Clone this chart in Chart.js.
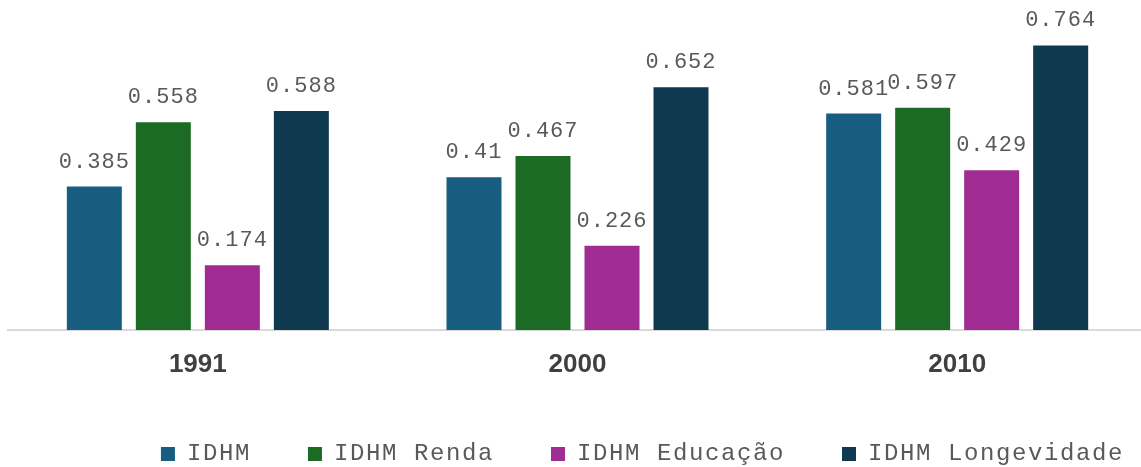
<!DOCTYPE html>
<html>
<head>
<meta charset="utf-8">
<script src="https://cdn.jsdelivr.net/npm/chart.js@4/dist/chart.umd.min.js"></script>
<style>
  html, body { margin: 0; padding: 0; background: #fff; overflow: hidden; }
  canvas { display: block; }
</style>
</head>
<body>
<canvas id="idhmChart" width="1147" height="467"></canvas>
<script>
// Chart data
const years = ["1991", "2000", "2010"];
const idhm = [0.385, 0.41, 0.581];
const idhmRenda = [0.558, 0.467, 0.597];
const idhmEducacao = [0.174, 0.226, 0.429];
const idhmLongevidade = [0.588, 0.652, 0.764];

const seriesNames = ["IDHM", "IDHM Renda", "IDHM Educação", "IDHM Longevidade"];
const seriesColors = ["#175d80", "#1b6b24", "#a02b93", "#0e394f"];

const monoFont = "'Courier New', 'Nimbus Mono PS', FreeMono, 'Liberation Mono', monospace";

// letter spacing for the monospace texts (legend + value labels)
const legendSpacing = "1.6px";
const labelSpacing = "1px";
// the legend sits right of centre and a bit lower in the original
const legendShiftX = 89;
const legendShiftY = 9;

const spacingPlugin = {
    id: "spacing",
    beforeLayout(chart) { chart.ctx.letterSpacing = legendSpacing; },
    afterLayout(chart) {
        chart.ctx.letterSpacing = "0px";
        chart.legend.left += legendShiftX;
        chart.legend.right += legendShiftX;
        chart.legend.top += legendShiftY;
        chart.legend.bottom += legendShiftY;
    },
    beforeDraw(chart) { chart.ctx.letterSpacing = legendSpacing; },
    beforeDatasetsDraw(chart) { chart.ctx.letterSpacing = "0px"; },
    afterDatasetsDraw(chart) {
        // value labels above each bar
        const ctx = chart.ctx;
        ctx.save();
        ctx.letterSpacing = labelSpacing;
        ctx.font = "22px " + monoFont;
        ctx.fillStyle = "#595959";
        ctx.textAlign = "center";
        ctx.textBaseline = "alphabetic";
        chart.data.datasets.forEach((ds, i) => {
            chart.getDatasetMeta(i).data.forEach((bar, j) => {
                ctx.fillText(String(ds.data[j]), bar.x, bar.y - 19);
            });
        });
        ctx.restore();
        ctx.letterSpacing = "0px";
    },
    afterDraw(chart) { chart.ctx.letterSpacing = "0px"; }
};

const allSeries = [idhm, idhmRenda, idhmEducacao, idhmLongevidade];

new Chart(document.getElementById("idhmChart"), {
    type: "bar",
    data: {
        labels: years,
        datasets: allSeries.map((values, i) => ({
            label: seriesNames[i],
            data: values,
            backgroundColor: seriesColors[i],
            categoryPercentage: 0.727,
            barPercentage: 0.797
        }))
    },
    options: {
        responsive: false,
        animation: false,
        layout: { padding: { left: 8, right: 0, top: 0, bottom: 0 } },
        scales: {
            x: {
                grid: { display: false, drawTicks: false, tickLength: 0 },
                border: { display: true, color: "#d9d9d9", width: 2 },
                ticks: {
                    z: 1,
                    color: "#404040",
                    padding: 19,
                    font: { family: "'Liberation Sans', Arial, sans-serif", size: 26, weight: "bold" }
                },
                afterFit(scale) { scale.height = 94; }
            },
            y: {
                display: false,
                min: 0,
                max: 0.886
            }
        },
        plugins: {
            tooltip: { enabled: false },
            legend: {
                position: "bottom",
                labels: {
                    boxWidth: 14,
                    boxHeight: 14,
                    padding: 9,
                    color: "#595959",
                    font: { family: monoFont, size: 24 },
                    generateLabels(chart) {
                        const items = Chart.defaults.plugins.legend.labels.generateLabels(chart);
                        items.forEach(item => { item.text += "   "; });
                        return items;
                    }
                }
            }
        }
    },
    plugins: [spacingPlugin]
});
</script>
</body>
</html>
